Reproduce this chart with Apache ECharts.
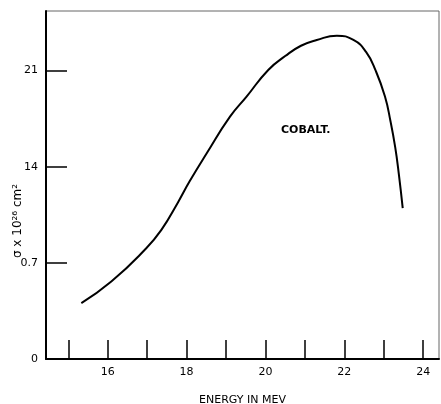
<!DOCTYPE html>
<html><head><meta charset="utf-8">
<script src="https://cdn.jsdelivr.net/npm/echarts@6/dist/echarts.min.js"></script>
<style>html,body{margin:0;padding:0;background:#fff}#c{width:441px;height:404px}</style>
</head><body><div id="c"></div>
<script>
// Energy (MeV) and cross-section (units of tick values; label "0.7" = 7)
const energy = [15.33, 16.09, 16.94, 17.36, 17.78, 18.08, 18.51, 19.10, 19.52, 20.07, 20.50, 20.90, 21.30, 21.81, 22.23, 22.55, 22.80, 23.03, 23.17, 23.29, 23.38, 23.48];
const sigma  = [4.07, 5.64, 7.95, 9.40, 11.40, 12.95, 14.98, 17.64, 19.10, 21.04, 22.05, 22.80, 23.22, 23.53, 23.22, 22.35, 20.95, 19.10, 17.30, 15.40, 13.50, 10.98];
const xTicks = [15, 16, 17, 18, 19, 20, 21, 22, 23, 24];
const xLabels = [16, 18, 20, 22, 24];
const yTicks = [0, 7, 14, 21];
const yTickLabels = ["0", "0.7", "14", "21"];
const xName = "ENERGY IN MEV";
const yName = "σ x 10²⁶ cm²";
const note = "COBALT.";

const chart = echarts.init(document.getElementById('c'), null, {renderer: 'canvas'});
const font = 'DejaVu Sans';
chart.setOption({
  animation: false,
  backgroundColor: '#fff',
  grid: {left: 46, right: 2, top: 11, bottom: 45, show: true, borderColor: '#666', borderWidth: 1,
    outerBoundsMode: 'none', containLabel: false},
  xAxis: {
    type: 'value', min: 14.434, max: 24.4,
    axisLine: {show: true, lineStyle: {color: '#000', width: 2}},
    axisTick: {show: true, inside: true, length: 19, customValues: xTicks, lineStyle: {color: '#000', width: 1.5}},
    axisLabel: {customValues: xLabels, color: '#000', fontFamily: font, fontSize: 11, margin: 8},
    splitLine: {show: false},
    name: xName, nameLocation: 'middle', nameGap: 36,
    nameTextStyle: {color: '#000', fontFamily: font, fontSize: 11, align: 'center'}
  },
  yAxis: {
    type: 'value', min: 0, max: 25.33,
    axisLine: {show: true, lineStyle: {color: '#000', width: 2}},
    axisTick: {show: true, inside: true, length: 21, customValues: yTicks, lineStyle: {color: '#000', width: 1.5}},
    axisLabel: {customValues: yTicks, color: '#000', fontFamily: font, fontSize: 11, margin: 8,
      formatter: v => yTickLabels[yTicks.indexOf(v)] ?? ''},
    splitLine: {show: false}
  },
  graphic: [
    {type: 'text', x: 18, y: 221, rotation: Math.PI / 2,
      style: {text: yName, fill: '#000', font: '12px DejaVu Sans', align: 'center', verticalAlign: 'middle'}},
    {type: 'text', x: 281, y: 130,
      style: {text: note, fill: '#000', font: 'bold 11px DejaVu Sans', align: 'left', verticalAlign: 'middle'}}
  ],
  series: [{
    type: 'line', data: energy.map((e, i) => [e, sigma[i]]),
    smooth: 0.5, showSymbol: false, symbol: 'none',
    lineStyle: {color: '#000', width: 2}
  }]
});
</script></body></html>
